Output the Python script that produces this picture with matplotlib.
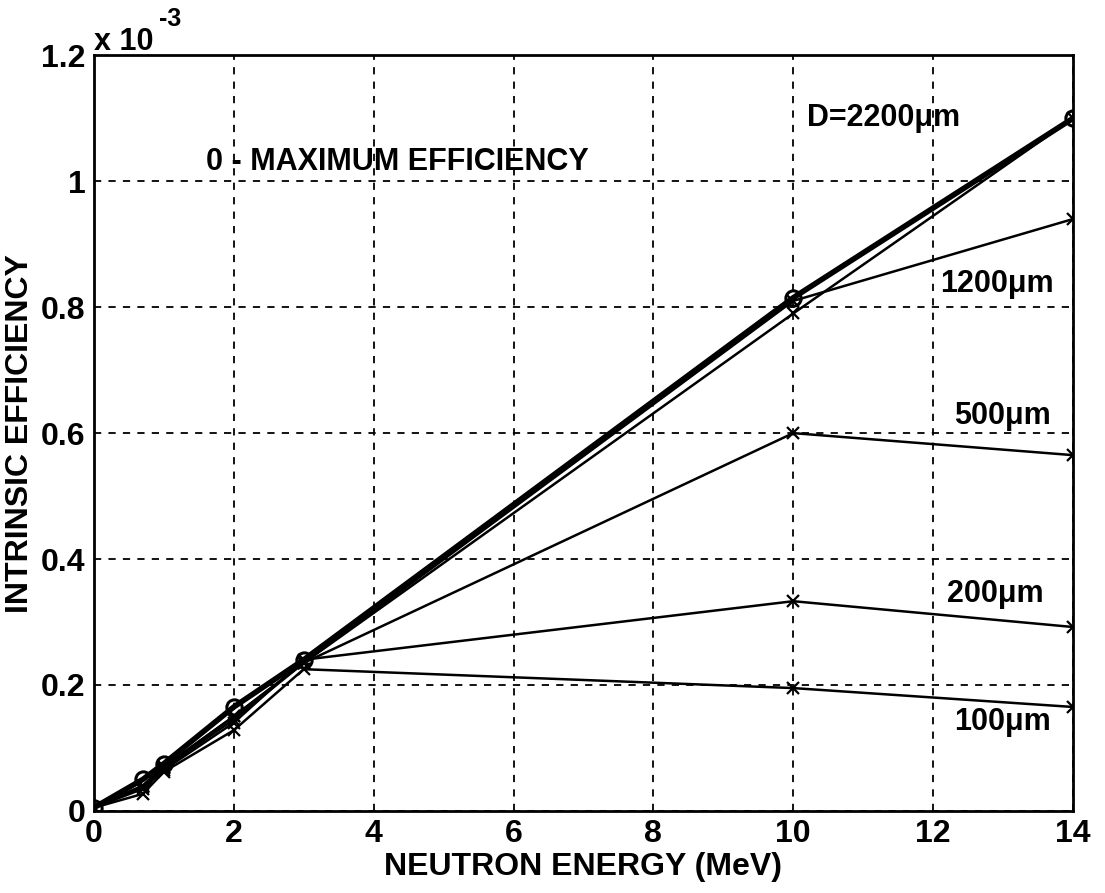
import numpy as np
import matplotlib.pyplot as plt
from matplotlib.ticker import FuncFormatter

# Data (efficiency in units of 1e-3)
energy = [0, 0.7, 1, 2, 3, 10, 14]
max_eff = [0.005, 0.050, 0.075, 0.165, 0.240, 0.815, 1.100]
d2200 = [0.005, 0.040, 0.070, 0.150, 0.235, 0.790, 1.100]
d1200 = [0.005, 0.040, 0.070, 0.150, 0.235, 0.810, 0.940]
d500 = [0.005, 0.038, 0.068, 0.145, 0.235, 0.600, 0.565]
d200 = [0.005, 0.035, 0.065, 0.140, 0.240, 0.333, 0.292]
d100 = [0.005, 0.027, 0.062, 0.128, 0.225, 0.195, 0.165]

x_ticks = [0, 2, 4, 6, 8, 10, 12, 14]
y_ticks = [0, 0.2, 0.4, 0.6, 0.8, 1.0, 1.2]

plt.rcParams['font.family'] = ['Liberation Sans', 'DejaVu Sans']
plt.rcParams['font.weight'] = 'bold'

fig = plt.figure(figsize=(11.05, 8.93), dpi=100)
ax = fig.add_axes([0.085, 0.092, 0.886, 0.846])

# Plot
for d in [d2200, d1200, d500, d200, d100]:
    ax.plot(energy, d, 'k-', lw=1.8, marker='x', ms=9, mew=1.6)
ax.plot(energy, max_eff, 'k-', lw=4, marker='o', ms=11, mfc='none', mew=2.2)

# Plot parameters
ax.set_xlim(0, 14)
ax.set_ylim(0, 1.2)
ax.set_xticks(x_ticks)
ax.set_yticks(y_ticks)
ax.yaxis.set_major_formatter(FuncFormatter(lambda v, p: '%g' % v))
ax.grid(True, color='k', ls=(0, (4, 4)), lw=1.3)
ax.tick_params(direction='in', length=0, labelsize=23, pad=6)
for s in ax.spines.values():
    s.set_linewidth(2)

ax.set_xlabel('NEUTRON ENERGY (MeV)', fontsize=23, fontweight='bold', labelpad=2)
ax.set_ylabel('INTRINSIC EFFICIENCY', fontsize=23, fontweight='bold', labelpad=4)

ax.text(0.0, 0.998, 'x 10', transform=ax.transAxes, fontsize=22, va='bottom', ha='left')
ax.text(0.066, 1.032, '-3', transform=ax.transAxes, fontsize=18, va='bottom', ha='left')

ax.text(1.6, 1.03, '0 - MAXIMUM EFFICIENCY', fontsize=22, va='center')
ax.text(10.2, 1.10, 'D=2200\u03bcm', fontsize=22, va='center')
ax.text(12.1, 0.837, '1200\u03bcm', fontsize=22, va='center')
ax.text(12.3, 0.627, '500\u03bcm', fontsize=22, va='center')
ax.text(12.2, 0.345, '200\u03bcm', fontsize=22, va='center')
ax.text(12.3, 0.141, '100\u03bcm', fontsize=22, va='center')

plt.savefig('out.png', dpi=100)
